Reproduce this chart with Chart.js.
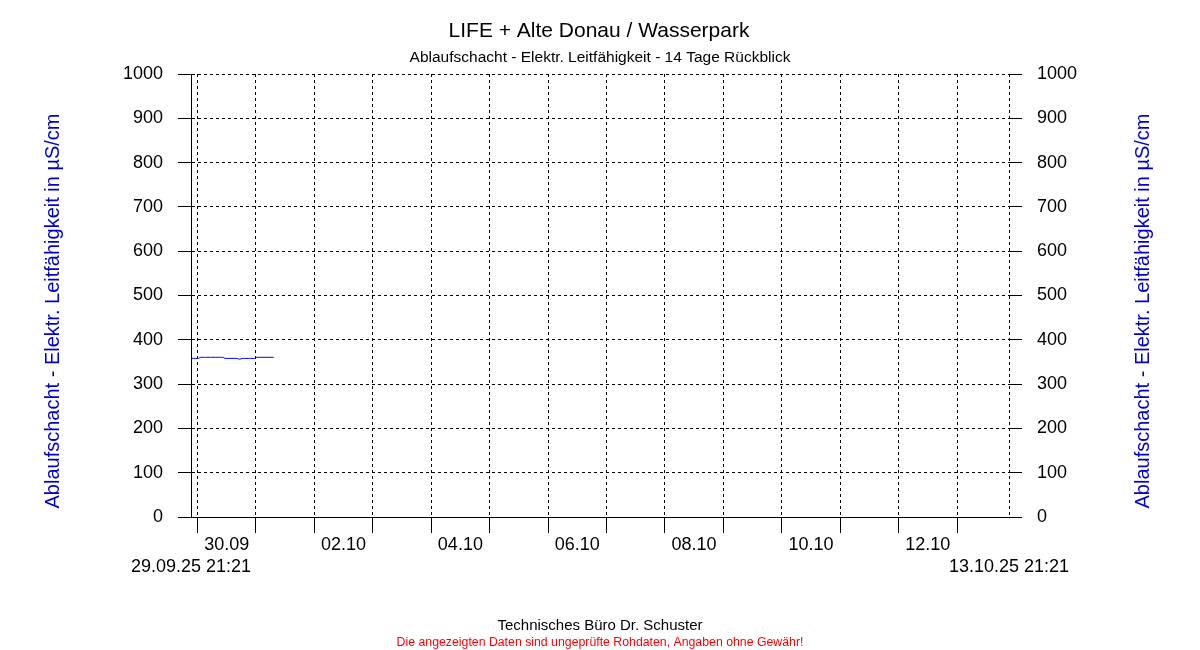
<!DOCTYPE html>
<html lang="de">
<head>
  <meta charset="UTF-8" />
  <title>LIFE + Alte Donau / Wasserpark</title>
  <script src="https://cdn.jsdelivr.net/npm/chart.js"></script>
  <style>
    body {
      margin: 0;
      background: #fff;
    }
    #box {
      width: 1200px;
      height: 650px;
    }
  </style>
</head>
<body>
  <div id="box">
    <canvas id="grafik" width="1200" height="650"></canvas>
  </div>

  <script>
    // Zeitraum: 14 Tage, Stunden ab Startzeitpunkt
    const startText = '29.09.25 21:21';
    const endeText = '13.10.25 21:21';
    const startStunde = 0;
    const endeStunde = 336;
    const ersteMitternacht = 24 - (21 + 21 / 60);
    const tagLabels = ['30.09', '02.10', '04.10', '06.10', '08.10', '10.10', '12.10'];
    const yTicks = [0, 100, 200, 300, 400, 500, 600, 700, 800, 900, 1000];

    // Messwerte (Stunden ab Start, µS/cm)
    const messZeit = [0, 1, 2, 3, 4, 5, 6, 8, 10, 12, 13, 14, 16, 18, 19, 20, 21, 22, 24, 26, 27, 28, 30, 32, 34];
    const leitfaehigkeit = [358, 358, 358, 358, 360.5, 360.5, 360.5, 360.5, 360.5, 360.5, 360.5, 358, 358, 358, 358, 356, 358, 358, 358, 358, 360.5, 360.5, 360.5, 360.5, 360.5];

    const schrift = '"Liberation Sans", Arial, sans-serif';
    const yTitel = 'Ablaufschacht - Elektr. Leitfähigkeit in µS/cm';

    function istMitternacht(v) {
      const r = (v - ersteMitternacht) / 24;
      return Math.abs(r - Math.round(r)) < 1e-6 && r >= 0;
    }

    function mittagIndex(v) {
      const r = (v - ersteMitternacht - 12) / 24;
      if (Math.abs(r - Math.round(r)) < 1e-6 && Math.round(r) % 2 === 0) return Math.round(r) / 2;
      return -1;
    }

    const textePlugin = {
      id: 'texte',
      afterDraw(chart) {
        const ctx = chart.ctx;
        ctx.save();
        ctx.textAlign = 'center';
        ctx.textBaseline = 'alphabetic';
        ctx.fillStyle = '#000';
        ctx.font = '21px ' + schrift;
        ctx.fillText('LIFE + Alte Donau / Wasserpark', 599, 37);
        ctx.font = '15.5px ' + schrift;
        ctx.fillText('Ablaufschacht - Elektr. Leitfähigkeit - 14 Tage Rückblick', 600, 62);
        ctx.font = '15px ' + schrift;
        ctx.fillText('Technisches Büro Dr. Schuster', 600, 630);
        ctx.fillStyle = '#ff0000';
        ctx.font = '12.3px ' + schrift;
        ctx.fillText('Die angezeigten Daten sind ungeprüfte Rohdaten, Angaben ohne Gewähr!', 600, 646);

        ctx.fillStyle = '#0000cc';
        ctx.font = '20px ' + schrift;
        ctx.textBaseline = 'middle';
        [53, 1143].forEach(function (x) {
          ctx.save();
          ctx.translate(x, 311);
          ctx.rotate(-Math.PI / 2);
          ctx.fillText(yTitel, 0, 0);
          ctx.restore();
        });
        ctx.restore();
      }
    };

    const yAchse = {
      min: 0,
      max: 1000,
      afterBuildTicks: function (scale) {
        scale.ticks = yTicks.map(v => ({ value: v }));
      },
      ticks: {
        color: '#000',
        font: { size: 18, family: schrift },
        padding: 15,
        callback: v => String(v)
      },
      grid: {
        color: '#000',
        tickColor: '#000',
        tickLength: 13,
        lineWidth: 1
      },
      border: { display: true, color: '#000', dash: [3, 3] }
    };

    new Chart(document.getElementById('grafik'), {
      type: 'line',
      data: {
        datasets: [{
          label: 'Leitfähigkeit',
          data: messZeit.map((t, i) => ({ x: t, y: leitfaehigkeit[i] })),
          borderColor: '#0000ff',
          borderWidth: 1,
          pointRadius: 0,
          tension: 0,
          fill: false
        }]
      },
      options: {
        responsive: false,
        animation: false,
        layout: { padding: { top: 74, left: 0, right: 0, bottom: 0 } },
        plugins: {
          legend: { display: false },
          title: { display: false },
          tooltip: { enabled: false }
        },
        scales: {
          x: {
            type: 'linear',
            min: startStunde,
            max: endeStunde,
            afterBuildTicks: function (scale) {
              const werte = [startStunde];
              for (let m = ersteMitternacht; m < endeStunde; m += 12) werte.push(m);
              werte.push(endeStunde);
              scale.ticks = werte.map(v => ({ value: v }));
            },
            afterFit: function (scale) { scale.height = 133; },
            ticks: {
              autoSkip: false,
              maxRotation: 0,
              color: '#000',
              font: { size: 18, family: schrift, lineHeight: 1.17 },
              padding: 2,
              callback: function (v) {
                if (v === startStunde) return ['', startText];
                if (v === endeStunde) return ['', endeText];
                const i = mittagIndex(v);
                return i >= 0 ? tagLabels[i] : '';
              }
            },
            grid: {
              color: ctx => (ctx.tick && (istMitternacht(ctx.tick.value) || ctx.tick.value === endeStunde)) ? '#000' : 'rgba(0,0,0,0)',
              tickColor: ctx => (ctx.tick && istMitternacht(ctx.tick.value)) ? '#000' : 'rgba(0,0,0,0)',
              tickLength: 16,
              lineWidth: 1
            },
            border: { display: true, color: '#000', dash: [3, 3] }
          },
          y: Object.assign({}, yAchse, {
            position: 'left',
            afterFit: function (scale) { scale.width = 191; }
          }),
          y2: Object.assign({}, yAchse, {
            position: 'right',
            afterFit: function (scale) { scale.width = 191; },
            grid: { color: '#000', tickColor: '#000', tickLength: 13, drawOnChartArea: false },
            border: { display: false }
          })
        }
      },
      plugins: [textePlugin]
    });
  </script>
</body>
</html>
